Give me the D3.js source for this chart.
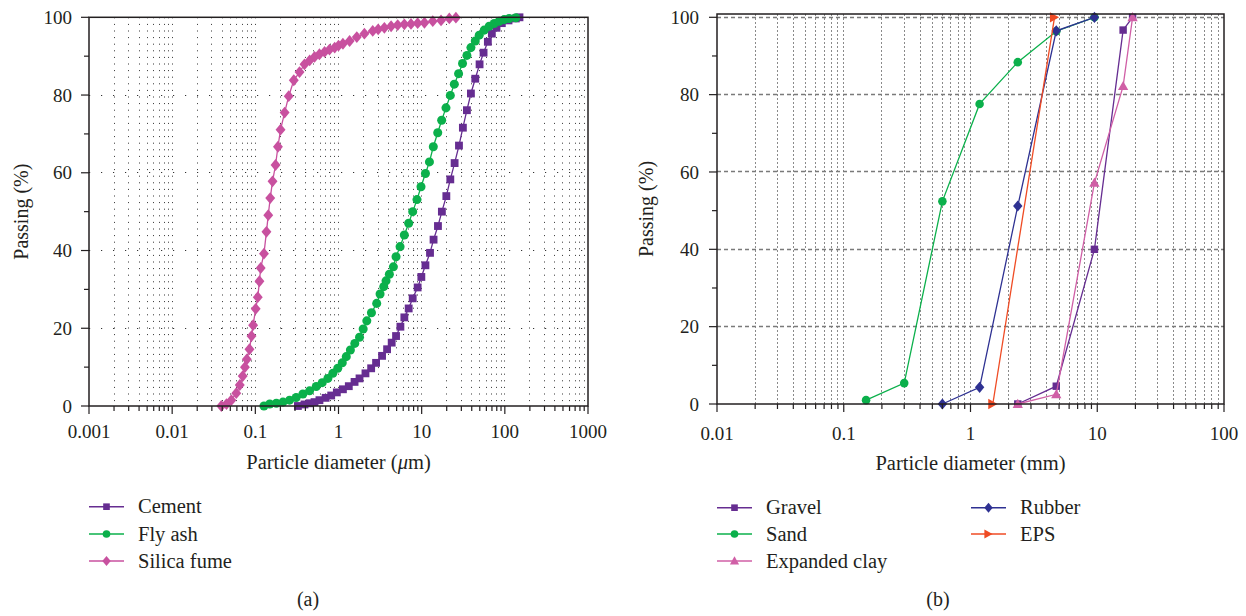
<!DOCTYPE html>
<html><head><meta charset="utf-8">
<script src="https://cdn.jsdelivr.net/npm/d3@7"></script>
<style>body{margin:0;background:#fff}svg{display:block}text{font-family:"Liberation Serif","DejaVu Serif",serif;fill:#231f20}</style>
</head><body>
<script>
// ---------- DATA ----------
const leftXTicks = [0.001, 0.01, 0.1, 1, 10, 100, 1000];
const leftXLabels = ["0.001", "0.01", "0.1", "1", "10", "100", "1000"];
const rightXTicks = [0.01, 0.1, 1, 10, 100];
const rightXLabels = ["0.01", "0.1", "1", "10", "100"];
const yTicks = [0, 20, 40, 60, 80, 100];
const yLabels = ["0", "20", "40", "60", "80", "100"];
const leftXTitle = "Particle diameter (";
const rightXTitle = "Particle diameter (mm)";
const yTitle = "Passing (%)";

const cement = [[0.325,0],[0.39,0.4],[0.449,0.7],[0.515,1.0],[0.59,1.5],[0.70,2.1],[0.817,2.7],[0.955,3.5],[1.13,4.3],[1.33,5.1],[1.56,6.2],[1.79,7.1],[2.11,8.4],[2.47,9.7],[2.83,11.1],[3.34,12.9],[3.84,14.6],[4.36,16.3],[4.92,18.0],[5.55,20.4],[6.19,22.8],[6.98,25.1],[7.80,27.7],[8.95,30.5],[9.91,33.2],[11.1,36.2],[12.6,39.4],[13.9,42.8],[15.7,46.3],[17.5,50.0],[19.8,54.0],[22.1,58.3],[24.9,62.5],[28.1,67.0],[31.3,71.6],[35.0,76.1],[39.1,80.4],[44.1,84.2],[49.7,87.9],[55.5,90.9],[62.5,93.7],[69.8,95.8],[79.4,97.3],[92.0,98.5],[110.7,99.2],[135.5,99.7],[150,100]];
const flyAsh = [[0.127,0],[0.149,0.5],[0.179,0.7],[0.215,1.0],[0.258,1.5],[0.31,2.2],[0.373,3.1],[0.449,3.9],[0.54,5.0],[0.637,6.0],[0.745,7.1],[0.855,8.4],[0.98,9.7],[1.11,11.1],[1.24,12.7],[1.39,14.4],[1.57,16.1],[1.79,17.7],[1.98,19.8],[2.19,21.9],[2.49,24.0],[2.88,26.4],[3.16,28.8],[3.50,30.7],[3.73,32.2],[4.09,33.9],[4.57,35.8],[4.92,38.4],[5.50,41.0],[6.19,44.0],[6.98,47.0],[7.80,50.0],[8.79,53.1],[9.82,56.4],[11.1,59.8],[12.4,62.8],[13.8,66.7],[15.6,70.3],[17.4,73.5],[19.6,76.7],[22.1,79.9],[24.7,82.8],[27.8,85.5],[31.0,88.1],[35.0,90.2],[39.1,92.2],[44.1,93.9],[49.2,95.4],[56.5,96.7],[64.9,97.7],[74.5,98.4],[85.5,99.0],[98.2,99.4],[112.7,99.7],[135.5,99.9]];
const silicaFume = [[0.039,0],[0.045,0.5],[0.0515,1.5],[0.059,3.3],[0.065,5.4],[0.0705,7.7],[0.075,10.0],[0.079,12.0],[0.085,14.6],[0.090,18.0],[0.094,20.8],[0.101,25.0],[0.107,28.0],[0.112,32.1],[0.116,35.5],[0.127,39.2],[0.136,44.8],[0.143,49.1],[0.151,53.5],[0.161,57.8],[0.175,62.0],[0.187,66.7],[0.201,71.1],[0.225,75.5],[0.252,79.7],[0.29,83.8],[0.34,85.9],[0.39,87.9],[0.45,88.9],[0.515,89.8],[0.59,90.5],[0.68,91.1],[0.78,91.7],[0.90,92.2],[1.0,92.7],[1.13,93.2],[1.36,93.9],[1.66,94.9],[2.05,95.8],[2.58,96.5],[3.0,96.9],[3.56,97.3],[4.29,97.7],[5.15,98.0],[6.19,98.2],[7.44,98.3],[8.95,98.5],[10.8,98.6],[13.6,99.0],[17.1,99.2],[21.5,99.7],[25.8,99.9]];

const gravel = [[2.36,0],[4.75,4.6],[9.5,40.0],[16,96.7],[19,100]];
const sand = [[0.15,1.0],[0.3,5.4],[0.6,52.4],[1.18,77.6],[2.36,88.4],[4.75,96.4],[9.5,100]];
const expandedClay = [[2.36,0],[4.75,2.5],[9.5,57.2],[16,82.2],[19,100]];
const rubber = [[0.6,0],[1.18,4.3],[2.36,51.2],[4.75,96.5],[9.5,100]];
const eps = [[1.5,0],[4.6,100]];

const leftSeries = [
  {name:"Cement", data:cement, color:"#662d91", shape:"square"},
  {name:"Fly ash", data:flyAsh, color:"#0bb04b", shape:"circle"},
  {name:"Silica fume", data:silicaFume, color:"#c8519f", shape:"diamond"}
];
const rightSeries = [
  {name:"Gravel", data:gravel, color:"#662d91", shape:"square"},
  {name:"Sand", data:sand, color:"#0bb04b", shape:"circle"},
  {name:"Expanded clay", data:expandedClay, color:"#d05fa6", shape:"triangle"},
  {name:"Rubber", data:rubber, color:"#2e3192", shape:"diamond"},
  {name:"EPS", data:eps, color:"#ef4b24", shape:"triright"}
];

// ---------- DRAW ----------
const svg = d3.select("body").append("svg").attr("width",1246).attr("height",616);

function markerPath(shape, s){
  if(shape==="square") return d3.symbol(d3.symbolSquare, 44*s*s)();
  if(shape==="circle") return d3.symbol(d3.symbolCircle, 46*s*s)();
  if(shape==="diamond"){const w=4.2*s,h=5*s;return `M0,${-h}L${w},0L0,${h}L${-w},0Z`;}
  if(shape==="triangle"){const a=4.6*s,h=4.1*s;return `M0,${-h-0.6}L${a},${h-0.6}L${-a},${h-0.6}Z`;}
  if(shape==="triright"){const a=4.6*s,h=4.1*s;return `M${h},0L${-h},${-a}L${-h},${a}Z`;}
}

function minorTicks(lo, hi){
  const out=[];
  for(let e=Math.round(Math.log10(lo)); e<Math.round(Math.log10(hi)); e++){
    for(let m=1;m<=9;m++) out.push(m*Math.pow(10,e));
  }
  out.push(hi);
  return out;
}
const px = v => Math.round(v-0.5)+0.5;

function panel(cfg){
  const g = svg.append("g");
  const x = d3.scaleLog().domain(cfg.xdom).range([cfg.x0,cfg.x1]);
  const y = d3.scaleLinear().domain([0,100]).range([cfg.yb,cfg.y100]);
  const allX = minorTicks(cfg.xdom[0], cfg.xdom[1]);
  const isMajor = v => Math.abs(Math.log10(v)-Math.round(Math.log10(v)))<1e-9;

  // grid
  const grid = g.append("g");
  allX.forEach(v=>{
    if(v<=cfg.xdom[0]*1.0001 || v>=cfg.xdom[1]*0.9999) return;
    grid.append("line").attr("x1",px(x(v))).attr("x2",px(x(v))).attr("y1",cfg.ytop).attr("y2",cfg.yb)
      .attr("stroke",cfg.vgridColor).attr("stroke-width",1).attr("stroke-dasharray",cfg.vdash);
  });
  cfg.hgrid.forEach(v=>{
    grid.append("line").attr("x1",cfg.x0).attr("x2",cfg.x1).attr("y1",px(y(v))).attr("y2",px(y(v)))
      .attr("stroke",cfg.hgridColor).attr("stroke-width",cfg.hwidth).attr("stroke-dasharray",cfg.hdash);
  });

  // series
  cfg.series.forEach(s=>{
    const line = d3.line().x(d=>x(d[0])).y(d=>y(d[1]));
    g.append("path").attr("d",line(s.data)).attr("fill","none").attr("stroke",s.color).attr("stroke-width",1.3);
    g.selectAll(null).data(s.data).enter().append("path")
      .attr("d",markerPath(s.shape,cfg.mscale))
      .attr("transform",d=>`translate(${x(d[0])},${y(d[1])})`)
      .attr("fill",s.color);
  });

  // frame
  g.append("rect").attr("x",cfg.x0).attr("y",cfg.ytop).attr("width",cfg.x1-cfg.x0).attr("height",cfg.yb-cfg.ytop)
    .attr("fill","none").attr("stroke","#231f20").attr("stroke-width",1.5);

  // x ticks
  allX.forEach(v=>{
    const len = isMajor(v)?cfg.majLen:cfg.minLen;
    g.append("line").attr("x1",x(v)).attr("x2",x(v)).attr("y1",cfg.yb).attr("y2",cfg.yb+len)
      .attr("stroke","#231f20").attr("stroke-width",1.2);
  });
  cfg.xticks.forEach((v,i)=>{
    g.append("text").attr("x",x(v)).attr("y",cfg.xlabY).attr("text-anchor","middle")
      .attr("font-size",19).text(cfg.xlabels[i]);
  });
  // y ticks
  for(let v=0; v<=100; v+=10){
    const len = v%20===0?cfg.majLen:cfg.minLen;
    g.append("line").attr("x1",cfg.x0-len).attr("x2",cfg.x0).attr("y1",y(v)).attr("y2",y(v))
      .attr("stroke","#231f20").attr("stroke-width",1.2);
  }
  yTicks.forEach((v,i)=>{
    g.append("text").attr("x",cfg.ylabX).attr("y",y(v)).attr("dy","0.35em").attr("text-anchor","end")
      .attr("font-size",19).text(yLabels[i]);
  });
  // titles
  const xt = g.append("text").attr("x",(cfg.x0+cfg.x1)/2).attr("y",cfg.xtitleY).attr("text-anchor","middle").attr("font-size",20.5);
  if(cfg.mu){ xt.append("tspan").text(leftXTitle); xt.append("tspan").attr("font-style","italic").text("\u03bc"); xt.append("tspan").text("m)"); }
  else xt.text(rightXTitle);
  g.append("text").attr("transform",`translate(${cfg.ytitleX},${(cfg.ytop+cfg.yb)/2}) rotate(-90)`)
    .attr("text-anchor","middle").attr("font-size",20).text(yTitle);

  // legend
  cfg.series.forEach((s,i)=>{
    const pos = cfg.legendPos[i];
    g.append("line").attr("x1",pos[0]).attr("x2",pos[0]+35).attr("y1",pos[1]).attr("y2",pos[1])
      .attr("stroke",s.color).attr("stroke-width",1.4);
    g.append("path").attr("d",markerPath(s.shape,1.0)).attr("transform",`translate(${pos[0]+17.5},${pos[1]})`).attr("fill",s.color);
    g.append("text").attr("x",pos[0]+49).attr("y",pos[1]+6.5).attr("font-size",20.5).text(s.name);
  });
  g.append("text").attr("x",cfg.capX).attr("y",606).attr("text-anchor","middle").attr("font-size",20).text(cfg.cap);
}

panel({
  x0:89, x1:588, ytop:17.3, yb:406, y100:17.3, xdom:[0.001,1000], xticks:leftXTicks, xlabels:leftXLabels,
  series:leftSeries, vgridColor:"#333", vdash:"1,5.6", hgridColor:"#333", hdash:"1.2,10.8", hwidth:1, hgrid:[20,40,60,80],
  majLen:8, minLen:5, xlabY:438, ylabX:72, xtitleY:469, ytitleX:28, mu:true, mscale:1.18,
  legendPos:[[89,506.7],[89,534],[89,561]], capX:308, cap:"(a)"
});
panel({
  x0:717, x1:1224, ytop:14, yb:404, y100:17.3, xdom:[0.01,100], xticks:rightXTicks, xlabels:rightXLabels,
  series:rightSeries, vgridColor:"#8a8a8a", vdash:"2,2", hgridColor:"#7a7a7a", hdash:"4,3", hwidth:1.3, hgrid:[20,40,60,80,100],
  majLen:8, minLen:5, xlabY:440, ylabX:699, xtitleY:470, ytitleX:653, mu:false, mscale:1.12,
  legendPos:[[717,507.7],[717,534],[717,561],[971,507.7],[971,534]], capX:938, cap:"(b)"
});
</script>
</body></html>
